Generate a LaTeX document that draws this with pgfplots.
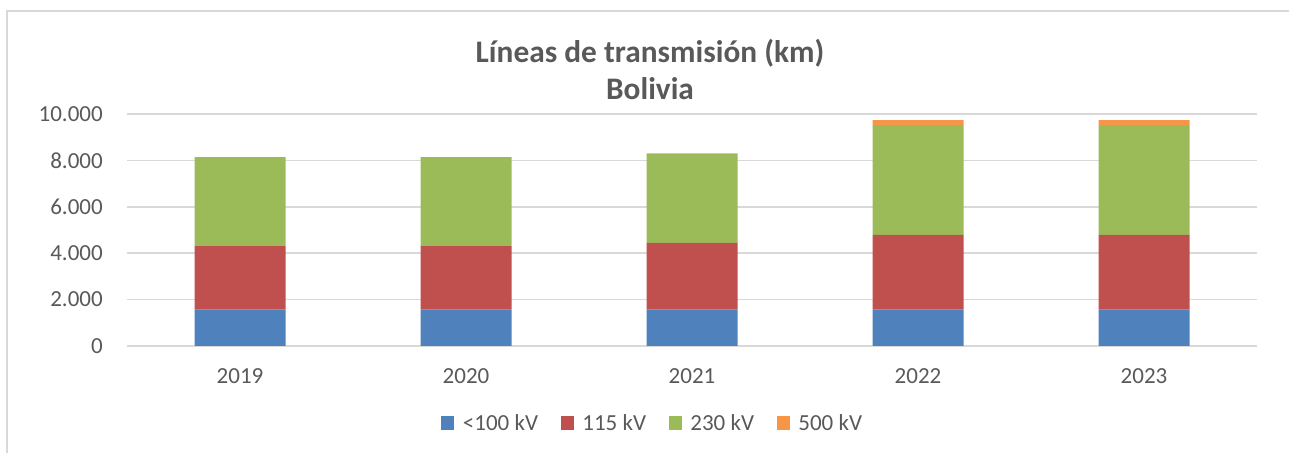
\documentclass[border=0pt]{standalone}
\usepackage{fontspec}
\setmainfont{Carlito}
\usepackage{pgfplots}
\pgfplotsset{compat=1.18}
\definecolor{cblue}{HTML}{4F81BD}
\definecolor{cred}{HTML}{C0504D}
\definecolor{cgreen}{HTML}{9BBB59}
\definecolor{corange}{HTML}{F79646}
\definecolor{cgrid}{HTML}{D9D9D9}
\definecolor{ctext}{HTML}{595959}
\begin{document}
\begin{tikzpicture}
\useasboundingbox (0pt,0pt) rectangle (966.75pt,339.75pt);
\draw[cgrid,line width=1.5pt] (5.25pt,0pt) -- (5.25pt,331.5pt) -- (966.75pt,331.5pt);
\node[anchor=base,text=ctext,font=\fontsize{23.5pt}{28pt}\selectfont\bfseries] at (487.5pt,292.5pt) {Líneas de transmisión (km)};
\node[anchor=base,text=ctext,font=\fontsize{23.5pt}{28pt}\selectfont\bfseries] at (487.5pt,264.75pt) {Bolivia};
\begin{axis}[
  at={(95.25pt,80.25pt)}, anchor=south west,
  scale only axis, width=847.5pt, height=174pt,
  ybar stacked, bar width=68.25pt,
  xmin=-0.5, xmax=4.5, ymin=0, ymax=10000,
  xtick={0,1,2,3,4}, xticklabels={2019,2020,2021,2022,2023},
  ytick={0,2000,4000,6000,8000,10000},
  major tick length=0pt,
  axis lines*=left,
  x axis line style={cgrid,line width=1.3pt,-},
  y axis line style={draw=none},
  ymajorgrids, grid style={cgrid,line width=1.3pt},
  tick label style={text=ctext,font=\fontsize{17.25pt}{20pt}\selectfont, inner sep=0pt},
  yticklabel style={anchor=east,xshift=-18pt},
  xticklabel style={anchor=north,yshift=-16.5pt},
  /pgf/number format/.cd, 1000 sep={.}, assume math mode=true,
  /pgfplots/.cd,
  scaled y ticks=false,
  legend columns=4,
  legend style={draw=none, fill=none, at={(0.4655,-0.332)}, anchor=center,
    font=\fontsize{17.25pt}{20pt}\selectfont, text=ctext,
    /tikz/every odd column/.append style={column sep=4.5pt},
    /tikz/every even column/.append style={column sep=15pt},
    inner sep=0pt},
  legend image code/.code={\fill[#1] (0pt,-4.9pt) rectangle (9.75pt,4.9pt);},
  legend cell align=left,
]
\addplot[fill=cblue,draw=none] coordinates {(0,1570) (1,1570) (2,1570) (3,1570) (4,1570)};
\addplot[fill=cred,draw=none] coordinates {(0,2733) (1,2733) (2,2876) (3,3220) (4,3220)};
\addplot[fill=cgreen,draw=none] coordinates {(0,3841) (1,3841) (2,3858) (3,4734) (4,4734)};
\addplot[fill=corange,draw=none] coordinates {(0,0) (1,0) (2,0) (3,216) (4,216)};
\legend{<100 kV,115 kV,230 kV,500 kV}
\end{axis}
\end{tikzpicture}
\end{document}
